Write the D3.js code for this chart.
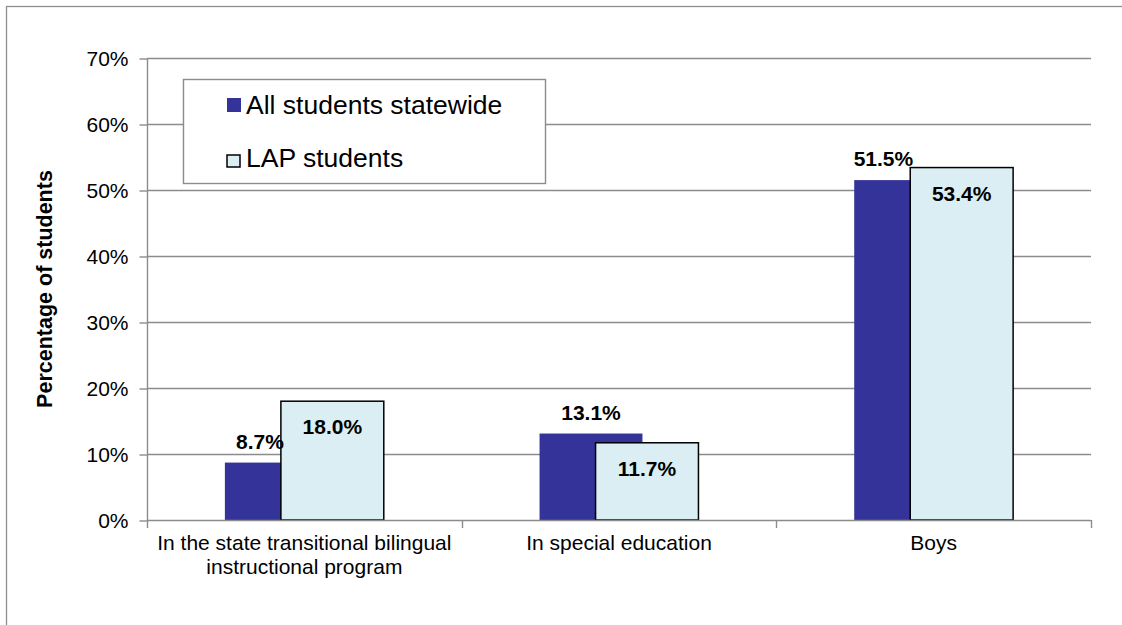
<!DOCTYPE html>
<html>
<head>
<meta charset="utf-8">
<script src="https://cdn.jsdelivr.net/npm/d3@7"></script>
<style>
  body { margin: 0; background: #fff; }
  text { font-family: "Liberation Sans", Arial, sans-serif; fill: #000; }
  .tick text { font-size: 21px; }
  .valueLabel { font-size: 21px; font-weight: bold; }
</style>
</head>
<body>
<div id="chart"></div>
<script>
// chart data
var categories = ["In the state transitional bilingual instructional program", "In special education", "Boys"];
var seriesNames = ["All students statewide", "LAP students"];
var allStudents = [8.7, 13.1, 51.5];
var lapStudents = [18.0, 11.7, 53.4];
var yTicks = [0, 10, 20, 30, 40, 50, 60, 70];

var colours = ["#333399", "#daeef3"];

var width = 1122, height = 625;
var margin = {top: 58, right: 31, bottom: 105, left: 147};

var svg = d3.select("#chart")
  .append("svg")
    .attr("width", width)
    .attr("height", height);

// outer frame (runs off the right/bottom edge like the original)
svg.append("rect")
  .attr("x", 6.5).attr("y", 6.5)
  .attr("width", width + 20).attr("height", height + 20)
  .attr("fill", "none")
  .attr("stroke", "#8e8e8e")
  .attr("stroke-width", 1.3);

var x0 = d3.scaleBand()
  .domain(categories)
  .range([margin.left, width - margin.right])
  .padding(0);

var y = d3.scaleLinear()
  .domain([0, 70])
  .range([height - margin.bottom, margin.top]);

// bar geometry as fractions of the category band
var bw = x0.bandwidth();
var barW = bw * 0.327;
var step = bw * 0.178;
var groupW = barW + step;

// gridlines
svg.append("g")
  .selectAll("line")
  .data(yTicks.filter(d => d > 0))
  .enter()
  .append("line")
  .attr("x1", margin.left).attr("x2", width - margin.right)
  .attr("y1", d => Math.round(y(d)) + 0.5).attr("y2", d => Math.round(y(d)) + 0.5)
  .attr("stroke", "#8c8c8c")
  .attr("stroke-width", 1.4);

// y axis
var yAxis = d3.axisLeft(y)
  .tickValues(yTicks)
  .tickSize(8)
  .tickPadding(11)
  .tickFormat(d => d + "%");

var yG = svg.append("g")
  .attr("transform", "translate(" + (margin.left + 0.5) + ",0.5)")
  .call(yAxis);
yG.selectAll("path, line").attr("stroke", "#8c8c8c").attr("stroke-width", 1.4);
yG.select(".domain").attr("d", "M0," + y(70) + "V" + y(0));

// bars
var rows = categories.map((c, i) => ({cat: c, vals: [allStudents[i], lapStudents[i]]}));

var groups = svg.selectAll("g.group")
  .data(rows)
  .enter()
  .append("g")
  .attr("class", "group");

groups.each(function(d) {
  var g = d3.select(this);
  var start = x0(d.cat) + bw / 2 - groupW / 2;
  d.vals.forEach(function(v, s) {
    g.append("rect")
      .attr("x", start + s * step)
      .attr("y", y(v))
      .attr("width", barW)
      .attr("height", y(0) - y(v))
      .attr("fill", colours[s])
      .attr("stroke", s === 1 ? "#000" : "none")
      .attr("stroke-width", 1.5);
  });

  // value labels: first series above bar, second inside at top
  var lightX = start + step;
  var lbl1 = g.append("text")
    .attr("class", "valueLabel")
    .attr("x", start + barW / 2)
    .attr("y", y(d.vals[0]) - 14)
    .attr("text-anchor", "middle")
    .text(d.vals[0].toFixed(1) + "%");
  // keep label from running too far into the neighbouring bar
  var len = lbl1.node().getComputedTextLength();
  var cx = start + barW / 2;
  if (cx + len / 2 > lightX + 3 && d.vals[1] > d.vals[0]) {
    lbl1.attr("x", lightX + 3 - len / 2);
  }

  g.append("text")
    .attr("class", "valueLabel")
    .attr("x", lightX + barW / 2)
    .attr("y", y(d.vals[1]) + 33)
    .attr("text-anchor", "middle")
    .text(d.vals[1].toFixed(1) + "%");
});

// x axis
var xAxis = d3.axisBottom(x0).tickSize(0).tickPadding(15);
var xG = svg.append("g")
  .attr("transform", "translate(0," + (y(0) + 0.5) + ")")
  .call(xAxis);
xG.select(".domain").attr("stroke", "#8c8c8c").attr("stroke-width", 1.4)
  .attr("d", "M" + margin.left + ",0H" + (width - margin.right));
xG.selectAll(".tick text").call(wrap, bw - 6);

// x boundary ticks
svg.append("g")
  .selectAll("line")
  .data(d3.range(categories.length + 1))
  .enter()
  .append("line")
  .attr("x1", i => Math.round(margin.left + i * bw) + 0.5)
  .attr("x2", i => Math.round(margin.left + i * bw) + 0.5)
  .attr("y1", y(0)).attr("y2", y(0) + 8)
  .attr("stroke", "#8c8c8c")
  .attr("stroke-width", 1.4);

// y axis title
svg.append("text")
  .attr("transform", "translate(52," + ((y(0) + y(70)) / 2) + ") rotate(-90)")
  .attr("text-anchor", "middle")
  .style("font-size", "21.5px")
  .style("font-weight", "bold")
  .text("Percentage of students");

// legend
var legend = svg.append("g");
legend.append("rect")
  .attr("x", 183.5).attr("y", 79.5)
  .attr("width", 362).attr("height", 104)
  .attr("fill", "#fff")
  .attr("stroke", "#8c8c8c")
  .attr("stroke-width", 1.4);

seriesNames.forEach(function(name, i) {
  var base = 114 + i * 53;
  legend.append("rect")
    .attr("x", 227).attr("y", i === 1 ? base - 12 : base - 16)
    .attr("width", i === 1 ? 13 : 14).attr("height", i === 1 ? 12 : 14)
    .attr("fill", colours[i])
    .attr("stroke", i === 1 ? "#000" : "none")
    .attr("stroke-width", 1.5);
  legend.append("text")
    .attr("x", 246)
    .attr("y", base)
    .style("font-size", "26.5px")
    .text(name);
});

function wrap(text, w) {
  text.each(function() {
    var t = d3.select(this),
        words = t.text().split(/\s+/).reverse(),
        word, line = [], lineNumber = 0,
        lineHeight = 24,
        yy = t.attr("y"),
        dy = parseFloat(t.attr("dy")),
        tspan = t.text(null).append("tspan").attr("x", 0).attr("y", yy).attr("dy", dy + "em");
    while (word = words.pop()) {
      line.push(word);
      tspan.text(line.join(" "));
      if (tspan.node().getComputedTextLength() > w && line.length > 1) {
        line.pop();
        tspan.text(line.join(" "));
        line = [word];
        tspan = t.append("tspan").attr("x", 0).attr("y", yy)
          .attr("dy", (++lineNumber * lineHeight / 21 + dy) + "em").text(word);
      }
    }
  });
}
</script>
</body>
</html>
